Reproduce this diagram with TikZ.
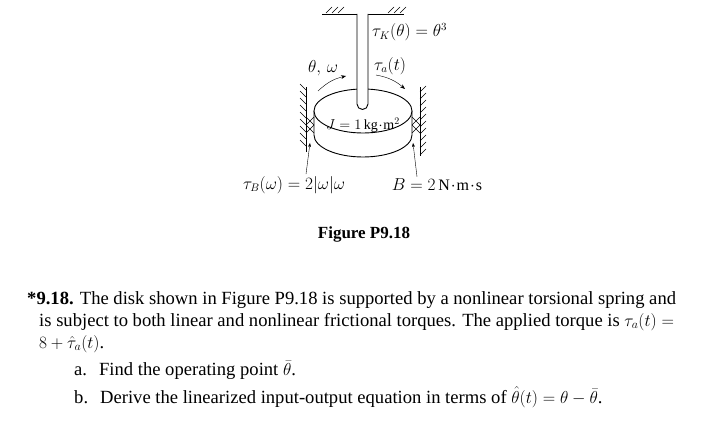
\documentclass[tikz,border=0pt]{standalone}
\usepackage{amsmath,amssymb}
\usepackage{fontspec}
\setmainfont{Liberation Serif}
\usepackage{tikz}
\usetikzlibrary{positioning,arrows.meta,patterns}

\tikzset{
  txt/.style={anchor=west, inner sep=0pt, font=\fontsize{18.6}{21}\selectfont},
  lbl/.style={inner sep=0pt, font=\fontsize{16}{18}\selectfont},
  hatch/.style={line width=0.6pt},
  part/.style={line width=0.9pt}
}

\begin{document}
\begin{tikzpicture}[x=1pt,y=-1pt]
\useasboundingbox (0,0) rectangle (728,435);

% ceiling
\draw[part] (322,14) -- (404,14);
\foreach \x in {326,332,338,388,394,400}
  \draw[hatch] (\x,13) -- (\x+6,7);

% walls
\draw[part] (306,87) -- (306,152);
\foreach \y in {90,97,...,150}
  \draw[hatch] (306,\y) -- (300,\y-6);
\draw[part] (420,87) -- (420,156);
\foreach \y in {92,99,...,155}
  \draw[hatch] (420,\y) -- (426,\y-6);

% disk
\draw[part, fill=white] (314,111) -- (314,135) arc[start angle=180, end angle=0, x radius=49, y radius=22] -- (412,111);
\draw[part, fill=white] (363,111) ellipse[x radius=49, y radius=22];

% shaft
\draw[part, fill=white] (357,14) -- (357,104) arc[start angle=180, end angle=0, radius=5.5] -- (368,14);

% bearings
\foreach \y in {117,125} {
  \draw[hatch] (306,\y) -- (314,\y+8);
  \draw[hatch] (306,\y+8) -- (314,\y);
  \draw[hatch] (412,\y) -- (420,\y+8);
  \draw[hatch] (412,\y+8) -- (420,\y);
}

% labels
\node[lbl, anchor=west] (tk) at (372,32) {$\tau_K(\theta) = \theta^3$};
\node[lbl] (thw) at (323,68) {$\theta,\,\omega$};
\node[lbl] (ta) at (390,66) {$\tau_a(t)$};
\node[lbl, font=\fontsize{14}{16}\selectfont] (J) at (363,125) {$J = 1\,\mathrm{kg}\!\cdot\!\mathrm{m}^2$};
\node[lbl] (tb) at (294,185) {$\tau_B(\omega) = 2|\omega|\omega$};
\node[lbl] (Bv) at (437,185) {$B = 2\,\mathrm{N}\!\cdot\!\mathrm{m}\!\cdot\!\mathrm{s}$};
\coordinate (lb) at (310,143);
\coordinate (rb) at (413,143);
\draw[-{Stealth[length=5pt]}] (318,91) to[bend left=15] (346,76);
\draw[-{Stealth[length=5pt]}] (376,75) to[bend left=15] (405,89);
\draw[-{Stealth[length=4pt]}] (tb.north) ++(12,-2) -- (lb);
\draw[-{Stealth[length=4pt]}] (Bv.north) ++(-20,-2) -- (rb);

\node[lbl, font=\bfseries\fontsize{17}{19}\selectfont] (cap) at (364,234) {Figure P9.18};

% problem text
\node[txt] (l1) at (27,300) {\textbf{*9.18.} The disk shown in Figure P9.18 is supported by a nonlinear torsional spring and};
\node[txt] (l2) at (39,322) {is subject to both linear and nonlinear frictional torques. The applied torque is $\tau_a(t) =$};
\node[txt] (l3) at (39,344) {$8 + \hat{\tau}_a(t)$.};
\node[txt] (l4) at (74,370) {a.\hspace{12pt}Find the operating point $\bar{\theta}$.};
\node[txt] (l5) at (74,397) {b.\hspace{12pt}Derive the linearized input-output equation in terms of $\hat{\theta}(t) = \theta - \bar{\theta}$.};
\end{tikzpicture}
\end{document}
